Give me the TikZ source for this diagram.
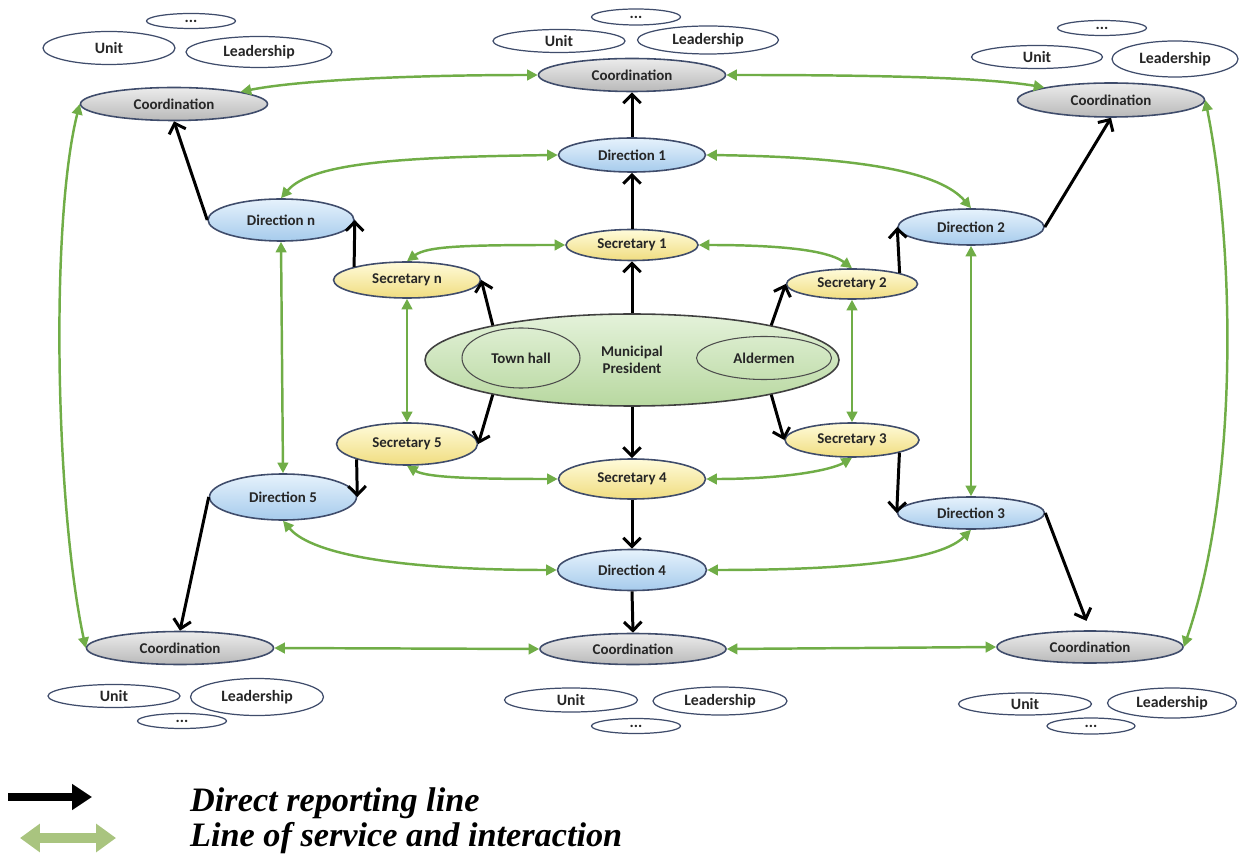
\documentclass[tikz,border=0pt]{standalone}
\usepackage{fontspec}
\setmainfont{Carlito}
\newfontfamily\legendfont{Liberation Serif}
\usetikzlibrary{positioning, shapes.geometric, arrows.meta}
\definecolor{rimblue}{HTML}{3F4C6B}
\definecolor{servgreen}{HTML}{70AD47}
\definecolor{legendgreen}{HTML}{A9C47F}
\definecolor{dirtop}{HTML}{E6F2FC}
\definecolor{dirbot}{HTML}{A6CBEC}
\definecolor{sectop}{HTML}{FFFBDA}
\definecolor{secbot}{HTML}{F0DD80}
\definecolor{mptop}{HTML}{E4F2DA}
\definecolor{mpbot}{HTML}{B8D8A0}

\begin{document}
\begin{tikzpicture}[x=0.02cm, y=-0.02cm,
    sz/.style 2 args={minimum width=#1*0.02cm, minimum height=#2*0.02cm},
    bubble/.style={ellipse, draw=rimblue, line width=0.9pt, inner sep=0pt, text=black!85,
      font=\fontsize{8.5}{9.5}\selectfont\bfseries, align=center},
    coord/.style={bubble, sz={187}{33}, top color=gray!15, bottom color=gray!55},
    direc/.style={bubble, sz={147}{38}, top color=dirtop, bottom color=dirbot},
    secr/.style={bubble, sz={134}{34}, top color=sectop, bottom color=secbot},
    sub/.style={bubble, fill=white, line width=0.7pt, font=\fontsize{9}{10}\selectfont\bfseries},
    rep/.style={line width=1.7pt, -{Straight Barb[length=5pt, width=10pt]}},
    serv/.style={servgreen, line width=1.4pt, {Triangle[length=6pt, width=6pt]}-{Triangle[length=6pt, width=6pt]}}
  ]
  \useasboundingbox (0,0) rectangle (1239,857);

  % centre
  \node[bubble, sz={414}{92}, draw=black!75, top color=mptop, bottom color=mpbot] (mp) at (632,360) {Municipal\\President};
  \node[bubble, sz={118}{60}, draw=black!70, line width=0.6pt] (townhall) at (521,358) {Town hall};
  \node[bubble, sz={135}{43}, draw=black!70, line width=0.6pt] (aldermen) at (764,358) {Aldermen};

  % secretaries
  \node[secr, sz={132}{31}] (secN) at (632,245) {Secretary 1};
  \node[secr, sz={131}{30}] (secNE) at (852,284) {Secretary 2};
  \node[secr] (secSE) at (852,440) {Secretary 3};
  \node[secr, sz={147}{40}] (secS) at (632,479) {Secretary 4};
  \node[secr, sz={141}{42}] (secSW) at (407,444) {Secretary 5};
  \node[secr, sz={147}{36}] (secNW) at (407,280) {Secretary n};

  % directions
  \node[direc, sz={147}{34}] (dirN) at (632,155) {Direction 1};
  \node[direc, sz={146}{36}] (dirNE) at (971,227) {Direction 2};
  \node[direc, sz={147}{32}] (dirSE) at (971,513) {Direction 3};
  \node[direc, sz={149}{41}] (dirS) at (632,570) {Direction 4};
  \node[direc, sz={147}{46}] (dirSW) at (283,497) {Direction 5};
  \node[direc, sz={146}{42}] (dirNW) at (281,220) {Direction n};

  % coordinations
  \node[coord] (coNW) at (174,104) {Coordination};
  \node[coord] (coN) at (632,75) {Coordination};
  \node[coord, sz={187}{34}] (coNE) at (1111,100) {Coordination};
  \node[coord] (coSW) at (180,648) {Coordination};
  \node[coord, sz={186}{31}] (coS) at (633,649) {Coordination};
  \node[coord, sz={186}{32}] (coSE) at (1090,647) {Coordination};

  % units, leaderships
  \node[sub, sz={132}{33}] (unitNW) at (109,48) {Unit};
  \node[sub, sz={146}{31}] (leadNW) at (259,52) {Leadership};
  \node[sub, sz={89}{15}] (dotsNW) at (191,21) {...};
  \node[sub, sz={132}{23}] (unitN) at (559,41) {Unit};
  \node[sub, sz={141}{28}] (leadN) at (708,40) {Leadership};
  \node[sub, sz={89}{16}] (dotsN) at (636,17) {...};
  \node[sub, sz={131}{23}] (unitNE) at (1037,57) {Unit};
  \node[sub, sz={126}{36}] (leadNE) at (1175,59) {Leadership};
  \node[sub, sz={89}{15}] (dotsNE) at (1102,28) {...};
  \node[sub, sz={132}{23}] (unitSW) at (114,696) {Unit};
  \node[sub, sz={133}{37}] (leadSW) at (257,697) {Leadership};
  \node[sub, sz={89}{15}] (dotsSW) at (182,721) {...};
  \node[sub, sz={133}{24}] (unitS) at (571,700) {Unit};
  \node[sub, sz={134}{28}] (leadS) at (720,701) {Leadership};
  \node[sub, sz={89}{15}] (dotsS) at (636,726) {...};
  \node[sub, sz={133}{22}] (unitSE) at (1025,704) {Unit};
  \node[sub, sz={129}{30}] (leadSE) at (1172,703) {Leadership};
  \node[sub, sz={88}{16}] (dotsSE) at (1091,726) {...};

  % direct reporting
  \draw[rep] (mp.north) -- (secN.south);
  \draw[rep] (secN.north) -- (dirN.south);
  \draw[rep] (dirN.north) -- (coN.south);
  \draw[rep] (mp.166) -- (secNW.east);
  \draw[rep] (secNW.166) -- (dirNW.east);
  \draw[rep] (dirNW.west) -- (coNW.south);
  \draw[rep] (mp.14) -- (secNE.west);
  \draw[rep] (secNE.13) -- (dirNE.west);
  \draw[rep] (dirNE.east) -- (coNE.south);
  \draw[rep] (mp.194) -- (secSW.east);
  \draw[rep] (secSW.197) -- (dirSW.east);
  \draw[rep] (dirSW.west) -- (coSW.north);
  \draw[rep] (mp.south) -- (secS.north);
  \draw[rep] (secS.south) -- (dirS.north);
  \draw[rep] (dirS.south) -- (coS.north);
  \draw[rep] (mp.346) -- (secSE.west);
  \draw[rep] (secSE.345) -- (dirSE.west);
  \draw[rep, shorten >=0.2cm] (dirSE.east) -- (coSE.north);

  % service and interaction
  \draw[serv] (coNW.north east) .. controls +(60,-12) and +(-120,0) .. (coN.west);
  \draw[serv] (coN.east) .. controls +(150,0) and +(-60,-10) .. (coNE.north west);
  \draw[serv] (coNW.west) .. controls +(-30,120) and +(-30,-140) .. (coSW.west);
  \draw[serv] (coNE.east) .. controls +(30,150) and +(55,-160) .. (coSE.east);
  \draw[serv] (coSW.east) -- (coS.west);
  \draw[serv] (coS.east) -- (coSE.west);
  \draw[serv] (dirN.west) .. controls +(-160,2) and +(30,-35) .. (dirNW.north);
  \draw[serv] (dirN.east) .. controls +(160,2) and +(-30,-35) .. (dirNE.north);
  \draw[serv] (dirNW.south) -- (dirSW.north);
  \draw[serv] (dirNE.south) -- (dirSE.north);
  \draw[serv] (dirSW.south) .. controls +(30,35) and +(-150,0) .. (dirS.west);
  \draw[serv] (dirS.east) .. controls +(150,0) and +(-30,30) .. (dirSE.south);
  \draw[serv] (secN.west) .. controls +(-100,0) and +(20,-15) .. (secNW.north);
  \draw[serv] (secN.east) .. controls +(100,0) and +(-20,-15) .. (secNE.north);
  \draw[serv] (secNW.south) -- (secSW.north);
  \draw[serv] (secNE.south) -- (secSE.north);
  \draw[serv] (secSW.south) .. controls +(20,12) and +(-80,0) .. (secS.west);
  \draw[serv] (secS.east) .. controls +(80,0) and +(-20,12) .. (secSE.south);

  % legend
  \coordinate (repA) at (8,797);
  \coordinate (repB) at (92,797);
  \coordinate (servA) at (20,838);
  \coordinate (servB) at (116,838);
  \draw[line width=0.16cm, -{Triangle[length=0.4cm, width=0.5cm]}] (repA) -- (repB);
  \draw[legendgreen, line width=0.2cm, {Triangle[length=0.4cm, width=0.55cm]}-{Triangle[length=0.4cm, width=0.55cm]}] (servA) -- (servB);
  \node[anchor=west, font=\legendfont\bfseries\itshape\fontsize{19.5}{23}\selectfont] (lgRep) at (184,803) {Direct reporting line};
  \node[anchor=west, font=\legendfont\bfseries\itshape\fontsize{19.5}{23}\selectfont] (lgServ) at (184,838) {Line of service and interaction};
\end{tikzpicture}
\end{document}
